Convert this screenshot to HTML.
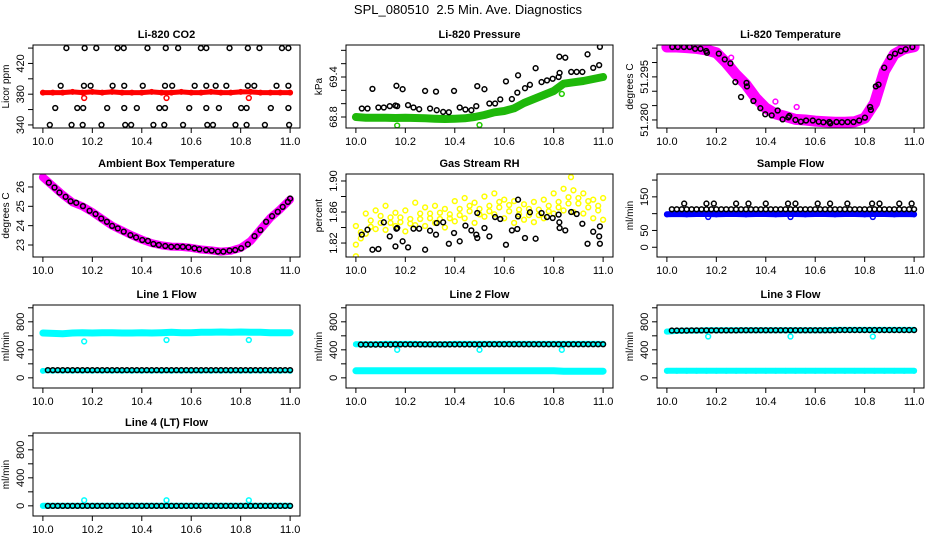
<!DOCTYPE html>
<html><head><meta charset="utf-8"><title>SPL_080510 Diagnostics</title>
<style>
html,body{margin:0;padding:0;background:#fff;}
svg{display:block;font-family:"Liberation Sans",Arial,sans-serif;}
</style></head>
<body>
<svg id="chart" width="936" height="540" viewBox="0 0 936 540" xmlns="http://www.w3.org/2000/svg">
<rect x="0" y="0" width="936" height="540" fill="#fff"/>
<text x="468" y="14" text-anchor="middle" font-size="13">SPL_080510&#160; 2.5 Min. Ave. Diagnostics</text>
</svg>
<script>
// ---- shared time axes ----
const T26 = [10.00,10.04,10.08,10.12,10.16,10.20,10.24,10.28,10.32,10.36,10.40,10.44,10.48,10.52,10.56,10.60,10.64,10.68,10.72,10.76,10.80,10.84,10.88,10.92,10.96,11.00];
const T25 = [10.02,10.06,10.10,10.14,10.18,10.22,10.26,10.30,10.34,10.38,10.42,10.46,10.50,10.54,10.58,10.62,10.66,10.70,10.74,10.78,10.82,10.86,10.90,10.94,10.98];
const TB = [10.02,10.04,10.06,10.08,10.10,10.12,10.14,10.16,10.18,10.20,10.22,10.24,10.26,10.28,10.30,10.32,10.34,10.36,10.38,10.40,10.42,10.44,10.46,10.48,10.50,10.52,10.54,10.56,10.58,10.60,10.62,10.64,10.66,10.68,10.70,10.72,10.74,10.76,10.78,10.80,10.82,10.84,10.86,10.88,10.90,10.92,10.94,10.96,10.98,11.00];
const xTicks = [10.0,10.2,10.4,10.6,10.8,11.0];
const xTickLabels = ["10.0","10.2","10.4","10.6","10.8","11.0"];
const outlierX = [10.167,10.5,10.833];

// ---- CO2 ----
const co2BlackX = [10.095,10.169,10.216,10.302,10.327,10.423,10.497,10.547,10.639,10.661,10.755,10.829,10.876,10.967,10.993,
 10.072,10.166,10.193,10.282,10.329,10.404,10.494,10.523,10.614,10.661,10.699,10.742,10.829,10.855,10.945,10.993,
 10.05,10.139,10.163,10.26,10.329,10.38,10.471,10.494,10.592,10.661,10.712,10.802,10.824,10.922,10.993,
 10.028,10.116,10.161,10.237,10.333,10.357,10.447,10.491,10.567,10.665,10.688,10.779,10.824,10.898,10.996];
const co2BlackY = [440,440,440,440,440,440,440,440,440,440,440,440,440,440,440,
 391,391,391,391,391,391,391,391,391,391,391,391,391,391,391,391,
 362,362,362,362,362,362,362,362,362,362,362,362,362,362,362,
 340,340,340,340,340,340,340,340,340,340,340,340,340,340,340];
const co2Red = [382,382,382,383,382,383,382,383,382,382,382,383,382,382,383,382,382,383,382,382,383,383,382,382,382,382];
const co2RedOut = [375,375,375];

// ---- Pressure ----
const presBlackX = [10.024,10.047,10.067,10.091,10.113,10.137,10.16,10.164,10.167,10.189,10.211,10.233,10.256,10.28,10.3,10.324,10.327,10.353,10.376,10.397,10.42,10.443,10.467,10.487,10.491,10.52,10.54,10.563,10.584,10.607,10.631,10.653,10.656,10.684,10.704,10.727,10.751,10.773,10.796,10.82,10.823,10.824,10.847,10.871,10.893,10.916,10.937,10.96,10.984,10.987];
const presBlackY = [68.927,68.927,69.222,68.942,68.942,68.963,68.973,69.268,68.963,69.217,68.978,68.942,68.917,69.191,68.927,69.181,68.902,68.876,68.871,69.191,68.942,68.912,68.902,68.963,69.263,69.217,69.003,69.003,69.064,69.334,69.069,69.166,69.425,69.232,69.283,69.532,69.324,69.349,69.374,69.4,69.705,69.461,69.69,69.476,69.476,69.476,69.74,69.537,69.578,69.852];
const presGreen = [68.80,68.79,68.79,68.79,68.785,68.79,68.785,68.78,68.775,68.77,68.775,68.78,68.80,68.83,68.87,68.89,68.93,69.01,69.07,69.13,69.19,69.30,69.32,69.34,69.37,69.40];
const presGreenOut = [68.673,68.68,69.146];

// ---- Li-820 temperature ----
const ltBlackX = [10.022,10.044,10.069,10.092,10.114,10.136,10.159,10.162,10.21,10.234,10.257,10.277,10.3,10.322,10.324,10.35,10.378,10.398,10.424,10.448,10.468,10.491,10.495,10.52,10.542,10.563,10.59,10.614,10.633,10.657,10.661,10.686,10.708,10.731,10.755,10.778,10.801,10.822,10.825,10.845,10.856,10.879,10.902,10.923,10.946,10.966,10.993];
const ltBlackY = [51.3054,51.3054,51.3054,51.3054,51.3048,51.3048,51.3040,51.3034,51.3031,51.3011,51.2997,51.2932,51.2880,51.2929,51.2917,51.2866,51.2841,51.2820,51.2816,51.2833,51.2802,51.2809,51.2814,51.2800,51.2794,51.2798,51.2798,51.2794,51.2792,51.2793,51.2788,51.2793,51.2792,51.2793,51.2793,51.2798,51.2808,51.2845,51.2835,51.2917,51.2923,51.2982,51.3019,51.3031,51.3040,51.3046,51.3054];
const ltMag = [51.3054,51.3054,51.3052,51.3049,51.3044,51.3034,51.2999,51.2958,51.2923,51.2876,51.2841,51.2821,51.2812,51.2802,51.2800,51.2796,51.2794,51.2792,51.2792,51.2794,51.2806,51.2859,51.2970,51.3029,51.3048,51.3055];
const ltMagOutX = [10.26,10.439,10.525];
const ltMagOutY = [51.3017,51.2864,51.2845];

// ---- Ambient box temperature ----
const ambBlackX = [10.024,10.047,10.067,10.092,10.112,10.135,10.162,10.189,10.213,10.236,10.259,10.28,10.303,10.327,10.354,10.377,10.402,10.425,10.447,10.469,10.495,10.519,10.543,10.566,10.589,10.613,10.633,10.66,10.683,10.708,10.73,10.755,10.778,10.802,10.829,10.856,10.88,10.903,10.927,10.95,10.97,10.991,11.0];
const ambBlackY = [26.22,25.97,25.71,25.49,25.26,25.18,25.01,24.77,24.60,24.37,24.20,23.99,23.86,23.69,23.51,23.39,23.26,23.21,23.05,23.00,22.95,22.91,22.91,22.91,22.88,22.83,22.78,22.74,22.71,22.66,22.66,22.71,22.74,22.83,23.03,23.46,23.77,24.20,24.49,24.72,24.97,25.23,25.40];
const ambMag = [26.5,26.05,25.6,25.2,25.0,24.7,24.35,24.0,23.75,23.5,23.28,23.1,22.98,22.92,22.9,22.85,22.77,22.72,22.66,22.7,22.85,23.2,23.8,24.4,24.85,25.35];

// ---- Gas stream RH ----
const rhBlackX = [10.024,10.047,10.067,10.091,10.113,10.137,10.16,10.164,10.167,10.189,10.211,10.233,10.256,10.28,10.3,10.324,10.327,10.353,10.376,10.397,10.42,10.443,10.467,10.487,10.491,10.491,10.52,10.54,10.563,10.584,10.607,10.631,10.653,10.656,10.656,10.684,10.704,10.727,10.751,10.773,10.796,10.82,10.823,10.824,10.847,10.871,10.893,10.916,10.937,10.96,10.984,10.987,10.987];
const rhBlackY = [1.8308,1.8372,1.8114,1.8123,1.8467,1.8286,1.8157,1.8385,1.8394,1.8222,1.8144,1.8385,1.8385,1.8114,1.8359,1.8308,1.8458,1.8467,1.8191,1.8329,1.8222,1.8424,1.8363,1.8308,1.8587,1.8265,1.8394,1.8286,1.8535,1.8510,1.8178,1.8363,1.8381,1.8759,1.8544,1.8265,1.8596,1.8256,1.8587,1.8535,1.8523,1.8566,1.8467,1.8394,1.8363,1.8600,1.8574,1.8449,1.8191,1.8346,1.8286,1.8191,1.8415];
const rhYellowA = [1.842,1.858,1.862,1.868,1.859,1.862,1.872,1.866,1.868,1.864,1.874,1.878,1.872,1.880,1.884,1.876,1.874,1.870,1.873,1.876,1.884,1.890,1.888,1.884,1.876,1.878];
const rhYellowB = [1.818,1.832,1.838,1.837,1.842,1.835,1.843,1.842,1.846,1.840,1.848,1.852,1.846,1.854,1.857,1.852,1.846,1.850,1.847,1.852,1.858,1.862,1.860,1.858,1.852,1.850];
const rhYellowC = [1.834,1.849,1.855,1.846,1.853,1.851,1.858,1.852,1.859,1.857,1.864,1.861,1.864,1.868,1.873,1.869,1.857,1.864,1.856,1.868,1.866,1.879,1.871,1.874,1.862];
const rhYellowD = [1.826,1.841,1.846,1.853,1.847,1.845,1.851,1.858,1.851,1.852,1.856,1.868,1.857,1.861,1.866,1.861,1.863,1.856,1.863,1.861,1.873,1.871,1.878,1.866,1.868];
const rhYellowOutX = [10.0,10.87];
const rhYellowOutY = [1.803,1.905];

// ---- Sample flow ----
const sfBlue = [98,99,98,99,99,98,99,99,98,99,99,98,99,99,98,99,99,98,99,99,98,99,99,98,99,98];
const sfBlueOut = [90,90,90];
const sfBlack = [113,113,113,113,113,113,113,113,113,113,113,113,113,113,113,113,113,113,113,113,113,113,113,113,113,113,113,113,113,113,113,113,113,113,113,113,113,113,113,113,113,113,113,113,113,113,113,113,113,113];
const sfBlackHiX = [10.07,10.16,10.19,10.28,10.33,10.40,10.49,10.52,10.61,10.66,10.73,10.83,10.86,10.94,10.99];
const sfBlackHi = [130,130,130,130,130,130,130,130,130,130,130,130,130,130,130];

// ---- Line flows ----
const l1CyanHi = [640,635,630,640,645,640,645,645,640,640,645,640,645,650,645,645,650,650,655,650,655,650,650,645,645,645];
const l1CyanLo = [100,100,100,100,100,100,100,100,100,100,100,100,100,100,100,100,100,100,100,100,100,100,100,100,100,100];
const l1CyanOut = [520,540,540];
const l1Black = [110,110,110,110,110,110,110,110,110,110,110,110,110,110,110,110,110,110,110,110,110,110,110,110,110,110,110,110,110,110,110,110,110,110,110,110,110,110,110,110,110,110,110,110,110,110,110,110,110,110];
const l2CyanHi = [480,480,480,485,485,485,485,480,480,480,485,485,485,485,485,485,485,485,485,485,485,485,485,485,485,485];
const l2CyanLo = [100,100,100,100,100,100,100,100,100,100,100,100,100,100,100,100,100,100,100,100,100,95,95,95,95,95];
const l2CyanOut = [400,400,400];
const l2Black = [475,475,475,475,475,475,475,478,478,478,478,478,478,478,478,478,478,478,478,478,478,478,478,478,478,480,480,480,480,480,480,480,480,480,480,480,480,480,480,480,480,480,480,480,480,480,480,480,480,480];
const l3CyanHi = [660,670,675,675,680,680,680,680,680,680,680,680,680,680,680,680,680,685,685,685,685,685,685,685,685,685];
const l3CyanLo = [100,100,100,100,100,100,100,100,100,100,100,100,100,100,100,100,100,100,100,100,100,100,100,100,100,100];
const l3CyanOut = [590,590,590];
const l3Black = [675,675,675,675,678,678,678,678,678,678,678,678,678,678,680,680,680,680,680,680,680,680,680,680,680,680,680,680,680,680,680,680,680,680,682,682,682,682,682,682,682,682,682,682,682,682,682,682,682,682];
const l4Cyan = [0,0,0,0,0,0,0,0,0,0,0,0,0,0,0,0,0,0,0,0,0,0,0,0,0,0];
const l4CyanOut = [80,80,80];
const l4Black = [0,0,0,0,0,0,0,0,0,0,0,0,0,0,0,0,0,0,0,0,0,0,0,0,0,0,0,0,0,0,0,0,0,0,0,0,0,0,0,0,0,0,0,0,0,0,0,0,0,0];

// ---- layout ----
const NS = "http://www.w3.org/2000/svg";
const svg = document.getElementById("chart");
const colLeft = [33,346,657], rowTop = [45,174,305,433], BW = 267, BH = 83;
const X0 = 9.96, X1 = 11.04;

function mk(tag, attrs, parent){
  const e = document.createElementNS(NS, tag);
  for (const k in attrs) e.setAttribute(k, attrs[k]);
  (parent||svg).appendChild(e);
  return e;
}

function panel(cfg){
  const L = colLeft[cfg.col], T = rowTop[cfg.row];
  const g = mk("g", {});
  
  
  const sx = v => L + (v - X0) / (X1 - X0) * BW;
  const sy = v => T + BH - (v - cfg.ylim[0]) / (cfg.ylim[1] - cfg.ylim[0]) * BH;
  const clip = "clip-" + cfg.name;
  const cp = mk("clipPath", {id: clip}, g);
  mk("rect", {x: L, y: T, width: BW, height: BH}, cp);
  const plot = mk("g", {"clip-path": "url(#" + clip + ")"}, g);
  
  
  function band(xs, ys, color, w, nm){
    let d = "";
    for (let i = 0; i < ys.length; i++) d += (i ? "L" : "M") + sx(xs[i]).toFixed(1) + " " + sy(ys[i]).toFixed(1);
    const p = mk("path", {d: d, fill: "none", stroke: color, "stroke-width": w, "stroke-linejoin": "round", "stroke-linecap": "round"}, plot);
    
    
    for (let i = 0; i < ys.length; i++) {
      const c = mk("circle", {cx: sx(xs[i]), cy: sy(ys[i]), r: 2.3, fill: "none", stroke: color, "stroke-width": 1.4}, plot);
      
      
    }
  }
  function pts(xs, ys, color, nm){
    for (let i = 0; i < ys.length; i++) {
      const c = mk("circle", {cx: sx(xs[i]), cy: sy(ys[i]), r: 2.4, fill: "none", stroke: color, "stroke-width": 1.5}, plot);
      
      
    }
  }
  cfg.draw(band, pts);
  const box = mk("rect", {x: L, y: T, width: BW, height: BH, fill: "none", stroke: "#000", "stroke-width": 1}, g);
  
  
  const xa = mk("g", {}, g);
  
  
  mk("line", {x1: sx(xTicks[0]), x2: sx(xTicks[xTicks.length-1]), y1: T+BH, y2: T+BH, stroke: "#000"}, xa);
  for (let i = 0; i < xTicks.length; i++) {
    mk("line", {x1: sx(xTicks[i]), x2: sx(xTicks[i]), y1: T+BH, y2: T+BH+5, stroke: "#000"}, xa);
    const t = mk("text", {x: sx(xTicks[i]), y: T+BH+17, "text-anchor": "middle", "font-size": 11}, xa);
    t.textContent = xTickLabels[i];
    
    
  }
  const ya = mk("g", {}, g);
  
  
  const yt = cfg.yticks;
  mk("line", {x1: L, x2: L, y1: sy(yt[0]), y2: sy(yt[yt.length-1]), stroke: "#000"}, ya);
  for (let i = 0; i < yt.length; i++) mk("line", {x1: L-5, x2: L, y1: sy(yt[i]), y2: sy(yt[i]), stroke: "#000"}, ya);
  for (let i = 0; i < cfg.ylabels.length; i++) {
    const yy = sy(cfg.ylabelVals[i]);
    const t = mk("text", {x: L-9, y: yy, "text-anchor": "middle", "font-size": 11, transform: "rotate(-90 " + (L-9) + " " + yy + ")"}, ya);
    t.textContent = cfg.ylabels[i];
    
    
  }
  const yl = mk("text", {x: L-24, y: T+BH/2, "text-anchor": "middle", "font-size": 10, transform: "rotate(-90 " + (L-24) + " " + (T+BH/2) + ")"}, g);
  yl.textContent = cfg.ylab;
  
  
  const tt = mk("text", {x: L + BW/2, y: T-7, "text-anchor": "middle", "font-size": 11, "font-weight": "bold"}, g);
  tt.textContent = cfg.title;
  
  
}

const flowTicks = [0,200,400,600,800,1000], flowLab = ["0","400","800"], flowLabV = [0,400,800], flowLim = [-145,1040];

panel({name:"co2-panel", title:"Li-820 CO2", ylab:"Licor ppm", col:0,row:0, ylim:[336,444], yticks:[340,360,380,400,420,440], ylabels:["340","380","420"], ylabelVals:[340,380,420],
  draw:(band,pts)=>{ band(T26,co2Red,"#ff0000",5,"co2-series"); pts(outlierX,co2RedOut,"#ff0000","co2-outlier"); pts(co2BlackX,co2BlackY,"#000","co2-black-point"); }});
panel({name:"pressure-panel", title:"Li-820 Pressure", ylab:"kPa", col:1,row:0, ylim:[68.635,69.88], yticks:[68.8,69.0,69.2,69.4,69.6,69.8], ylabels:["68.8","69.4"], ylabelVals:[68.8,69.4],
  draw:(band,pts)=>{ band(T26,presGreen,"#1fb80a",8,"pressure-series"); pts(outlierX,presGreenOut,"#22cc00","pressure-outlier"); pts(presBlackX,presBlackY,"#000","pressure-black-point"); }});
panel({name:"licor-temp-panel", title:"Li-820 Temperature", ylab:"degrees C", col:2,row:0, ylim:[51.2772,51.3061], yticks:[51.280,51.285,51.290,51.295,51.300,51.305], ylabels:["51.280","51.295"], ylabelVals:[51.280,51.295],
  draw:(band,pts)=>{ band(T26,ltMag,"#ff00ff",11,"licor-temp-series"); pts(ltMagOutX,ltMagOutY,"#ff00ff","licor-temp-outlier"); pts(ltBlackX,ltBlackY,"#000","licor-temp-black-point"); }});
panel({name:"ambient-temp-panel", title:"Ambient Box Temperature", ylab:"degrees C", col:0,row:1, ylim:[22.38,26.67], yticks:[23,24,25,26], ylabels:["23","24","25","26"], ylabelVals:[23,24,25,26],
  draw:(band,pts)=>{ band(T26,ambMag,"#ff00ff",8,"ambient-temp-series"); pts(ambBlackX,ambBlackY,"#000","ambient-temp-black-point"); }});
panel({name:"rh-panel", title:"Gas Stream RH", ylab:"percent", col:1,row:1, ylim:[1.802,1.909], yticks:[1.82,1.84,1.86,1.88,1.90], ylabels:["1.82","1.86","1.90"], ylabelVals:[1.82,1.86,1.90],
  draw:(band,pts)=>{ const y="#ffff00"; pts(T26,rhYellowA,y,"rh-yellow-point"); pts(T26,rhYellowB,y,"rh-yellow-point"); pts(T25,rhYellowC,y,"rh-yellow-point"); pts(T25,rhYellowD,y,"rh-yellow-point"); pts(rhYellowOutX,rhYellowOutY,y,"rh-yellow-point"); pts(rhBlackX,rhBlackY,"#000","rh-black-point"); }});
panel({name:"sample-flow-panel", title:"Sample Flow", ylab:"ml/min", col:2,row:1, ylim:[-29,218], yticks:[0,50,100,150,200], ylabels:["0","50","150"], ylabelVals:[0,50,150],
  draw:(band,pts)=>{ band(T26,sfBlue,"#0000ff",6,"sample-flow-series"); pts(outlierX,sfBlueOut,"#0000ff","sample-flow-outlier"); pts(TB,sfBlack,"#000","sample-flow-black-point"); pts(sfBlackHiX,sfBlackHi,"#000","sample-flow-black-point"); }});
panel({name:"line1-flow-panel", title:"Line 1 Flow", ylab:"ml/min", col:0,row:2, ylim:flowLim, yticks:flowTicks, ylabels:flowLab, ylabelVals:flowLabV,
  draw:(band,pts)=>{ band(T26,l1CyanHi,"#00ffff",7,"line1-cyan-series"); band(T26,l1CyanLo,"#00ffff",5,"line1-cyan-low-series"); pts(outlierX,l1CyanOut,"#00ffff","line1-outlier"); pts(TB,l1Black,"#000","line1-black-point"); }});
panel({name:"line2-flow-panel", title:"Line 2 Flow", ylab:"ml/min", col:1,row:2, ylim:flowLim, yticks:flowTicks, ylabels:flowLab, ylabelVals:flowLabV,
  draw:(band,pts)=>{ band(T26,l2CyanHi,"#00ffff",6,"line2-cyan-series"); band(T26,l2CyanLo,"#00ffff",7,"line2-cyan-low-series"); pts(outlierX,l2CyanOut,"#00ffff","line2-outlier"); pts(TB,l2Black,"#000","line2-black-point"); }});
panel({name:"line3-flow-panel", title:"Line 3 Flow", ylab:"ml/min", col:2,row:2, ylim:flowLim, yticks:flowTicks, ylabels:flowLab, ylabelVals:flowLabV,
  draw:(band,pts)=>{ band(T26,l3CyanHi,"#00ffff",6,"line3-cyan-series"); band(T26,l3CyanLo,"#00ffff",6,"line3-cyan-low-series"); pts(outlierX,l3CyanOut,"#00ffff","line3-outlier"); pts(TB,l3Black,"#000","line3-black-point"); }});
panel({name:"line4-flow-panel", title:"Line 4 (LT) Flow", ylab:"ml/min", col:0,row:3, ylim:flowLim, yticks:flowTicks, ylabels:flowLab, ylabelVals:flowLabV,
  draw:(band,pts)=>{ band(T26,l4Cyan,"#00ffff",6,"line4-cyan-series"); pts(outlierX,l4CyanOut,"#00ffff","line4-outlier"); pts(TB,l4Black,"#000","line4-black-point"); }});
</script>
</body></html>
